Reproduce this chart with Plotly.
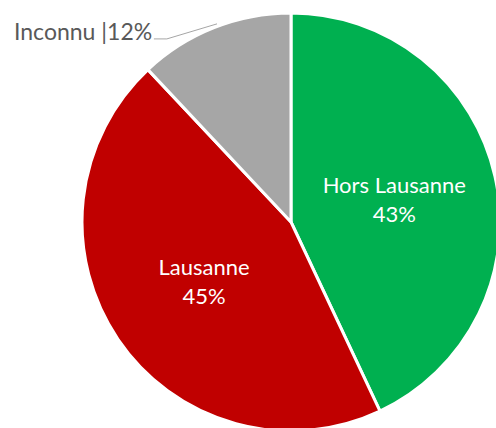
import plotly.graph_objects as go

# categories and shares
categories = ["Hors Lausanne", "Lausanne", "Inconnu"]
shares = [43, 45, 12]
slice_colors = ["#00b050", "#c00000", "#a6a6a6"]

# inside labels for the two big slices, the small one gets an outside callout
texts = [f"{c}<br>{v}%" if v > 20 else "" for c, v in zip(categories, shares)]

fig = go.Figure(go.Pie(
    labels=categories,
    values=shares,
    sort=False,
    direction="clockwise",
    rotation=0,
    marker=dict(colors=slice_colors, line=dict(color="white", width=3)),
    text=texts,
    textinfo="text",
    textposition="inside",
    insidetextorientation="horizontal",
    insidetextfont=dict(family="Lato", size=22, color="white"),
    hoverinfo="label+percent",
    showlegend=False,
))

# callout for the small slice (text + leader line)
fig.add_annotation(
    x=-0.1675, y=0.957, xref="paper", yref="paper",
    text=f"{categories[2]} |{shares[2]}%",
    showarrow=False,
    xanchor="left", yanchor="middle",
    font=dict(family="Lato", size=23, color="#595959"),
)
fig.add_shape(
    type="path", xref="paper", yref="paper",
    path="M 0.172 0.938 L 0.203 0.938 L 0.323 0.974",
    line=dict(color="#a6a6a6", width=1),
)

# the original pie runs a few px past the right and bottom edges
fig.update_layout(
    width=500, height=432,
    margin=dict(l=82, r=0, t=13, b=1),
    paper_bgcolor="white",
    plot_bgcolor="white",
)

fig.write_html(
    "out.html",
    config={"displayModeBar": False},
    post_script="document.body.style.margin='0';document.body.style.overflow='hidden';",
)
